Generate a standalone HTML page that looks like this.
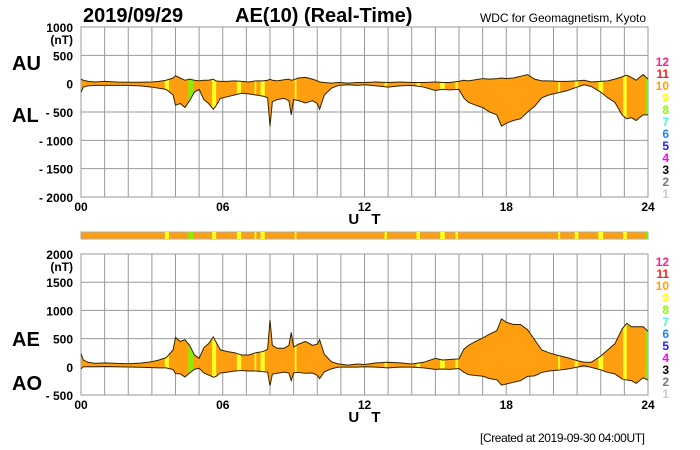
<!DOCTYPE html>
<html><head><meta charset="utf-8"><style>
body{margin:0;background:#fff;}
svg{display:block;font-family:"Liberation Sans",sans-serif;font-weight:bold;}
</style></head><body>
<svg id="chart" width="700" height="450" viewBox="0 0 700 450">
<text x="83" y="22" font-size="20">2019/09/29</text>
<text x="235" y="22" font-size="20">AE(10) (Real-Time)</text>
<text x="480" y="22" font-size="12" font-weight="normal" textLength="166">WDC for Geomagnetism, Kyoto</text>
<text x="12" y="70" font-size="20">AU</text>
<text x="12" y="122" font-size="20">AL</text>
<text x="12" y="346" font-size="20">AE</text>
<text x="12" y="390" font-size="20">AO</text>
<text x="480" y="442" font-size="12" font-weight="normal" textLength="165">[Created at 2019-09-30 04:00UT]</text>
<g id="top"></g><g id="bar"></g><g id="bot"></g><g id="leg"></g>
</svg>
<script>
// hours, AU, AL (nT)
const hours = [0,0.1,0.3,0.6,1,1.5,2,2.5,3,3.3,3.6,3.9,4.0,4.2,4.4,4.6,4.8,5.0,5.2,5.4,5.6,5.7,5.9,6.2,6.5,6.8,7.1,7.4,7.7,7.9,8.0,8.1,8.3,8.6,8.8,8.9,9.0,9.2,9.5,9.8,10.0,10.1,10.3,10.6,10.9,11.3,11.7,12,12.5,13,13.5,14,14.5,15,15.3,15.6,16,16.2,16.4,16.7,17,17.3,17.6,17.8,18,18.3,18.6,18.9,19.2,19.5,19.8,20.2,20.6,21,21.3,21.6,22,22.3,22.6,22.9,23.1,23.3,23.5,23.7,23.8,24];
const auValues = [80,60,40,30,40,30,25,25,30,40,60,100,140,100,60,80,60,50,60,60,80,50,40,40,50,40,30,50,50,60,80,60,50,70,80,60,70,100,110,80,50,30,20,10,20,10,20,20,30,20,30,20,20,30,20,20,40,60,50,70,90,80,90,100,90,100,130,160,80,50,50,40,40,50,60,30,40,50,80,120,150,110,60,130,160,80];
const alValues = [-150,-60,-40,-30,-30,-30,-30,-40,-60,-80,-100,-200,-380,-350,-420,-300,-150,-100,-280,-350,-450,-400,-260,-230,-200,-170,-180,-200,-220,-250,-750,-320,-280,-260,-300,-550,-280,-300,-340,-300,-350,-450,-200,-80,-30,-20,-30,-20,-40,-60,-40,-30,-60,-120,-100,-110,-100,-250,-330,-380,-420,-500,-550,-750,-700,-650,-620,-500,-400,-250,-200,-160,-120,-60,-20,-50,-150,-250,-330,-550,-620,-600,-650,-580,-550,-550];
// non-10 station count segments: start hour, end hour, count
const segStart = [3.55,4.55,5.55,6.6,7.35,7.6,9.05,12.85,14.2,15.2,15.85,20.2,20.9,21.9,22.95,23.9];
const segEnd   = [3.72,4.75,5.72,6.78,7.42,7.78,9.12,12.95,14.35,15.4,15.95,20.28,21.05,22.1,23.1,24];
const segCount = [9,8,9,9,9,9,9,9,9,9,9,9,9,9,9,8];
const NS="http://www.w3.org/2000/svg";
const X0=81,X1=648;
const xs=h=>X0+(X1-X0)*h/24;
const colorOf={8:"#88ee00",9:"#ffff22",10:"#ff9f10"};
function el(t,a,p){const e=document.createElementNS(NS,t);for(const k in a)e.setAttribute(k,a[k]);p.appendChild(e);return e;}
function panel(g,id,yTop,yBot,vMax,vMin,ticks,upper,lower){
  const ys=v=>yTop+(vMax-v)/(vMax-vMin)*(yBot-yTop);
  const r=el('rect',{x:X0,y:yTop,width:X1-X0,height:yBot-yTop,fill:'#fff',stroke:'#999'},g);
  
  for(let h=1;h<24;h++){const l=el('line',{x1:xs(h),x2:xs(h),y1:yTop,y2:yBot,stroke:'#999','stroke-width':1},g);
    }
  ticks.forEach(v=>{const l=el('line',{x1:X0,x2:X1,y1:ys(v),y2:ys(v),stroke:'#999'},g);
    
    const t=el('text',{x:73,y:ys(v)+5,'font-size':12,'text-anchor':'end'},g);
    t.textContent=(v<0?'- '+(-v):v);
    });
  const nt=el('text',{x:73,y:ys(vMax)+17,'font-size':12,'text-anchor':'end'},g);nt.textContent='(nT)';
  
  let pts=hours.map((h,i)=>xs(h)+','+ys(upper[i]));
  let pts2=hours.map((h,i)=>xs(h)+','+ys(lower[i])).reverse();
  const poly=pts.concat(pts2).join(' ');
  const cp=el('clipPath',{id:'cp'+id},g);el('polygon',{points:poly},cp);
  const f=el('polygon',{points:poly,fill:'#ff9f10',stroke:'none'},g);
  
  const cg=el('g',{'clip-path':'url(#cp'+id+')'},g);
  segStart.forEach((s,i)=>{const r=el('rect',{x:xs(s),y:yTop,width:xs(segEnd[i])-xs(s),height:yBot-yTop,fill:colorOf[segCount[i]]},cg);
    });
  [upper,lower].forEach((arr,k)=>{const l=el('polyline',{points:hours.map((h,i)=>xs(h)+','+ys(arr[i])).join(' '),fill:'none',stroke:'#332200','stroke-width':1},g);
    });
  [['00',0],['06',6],['12',12],['18',18],['24',24]].forEach(([s,h])=>{const t=el('text',{x:xs(h),y:yBot+14,'font-size':12,'text-anchor':'middle'},g);t.textContent=s;
    });
  const ut=el('text',{x:xs(12)+2,y:yBot+27,'font-size':15,'text-anchor':'middle','letter-spacing':'4'},g);ut.textContent='U T';
  
}
panel(document.getElementById('top'),'au-al',27,197,1000,-2000,[1000,500,0,-500,-1000,-1500,-2000],auValues,alValues);
const aeValues=auValues.map((u,i)=>u-alValues[i]);
const aoValues=auValues.map((u,i)=>(u+alValues[i])/2);
panel(document.getElementById('bot'),'ae-ao',254,395,2000,-500,[2000,1500,1000,500,0,-500],aeValues,aoValues);
// status bar
const bar=document.getElementById('bar');
const br=el('rect',{x:X0,y:232,width:X1-X0,height:7,fill:'#ff9f10',stroke:'#aaa'},bar);

segStart.forEach((s,i)=>{const r=el('rect',{x:xs(s),y:232,width:xs(segEnd[i])-xs(s),height:7,fill:colorOf[segCount[i]]},bar);
  });
// legends
const legNums=[12,11,10,9,8,7,6,5,4,3,2,1];
const legCols=["#ff2090","#ff2020","#ff9f10","#ffff00","#88ff00","#40ffd0","#2080ff","#2020ff","#ff00ff","#000","#777","#ccc"];
const leg=document.getElementById('leg');
[66,266].forEach(y0=>legNums.forEach((n,i)=>{const t=el('text',{x:669,y:y0+i*12,'font-size':12,'text-anchor':'end',fill:legCols[i]},leg);t.textContent=n;
  }));
</script>
</body></html>
